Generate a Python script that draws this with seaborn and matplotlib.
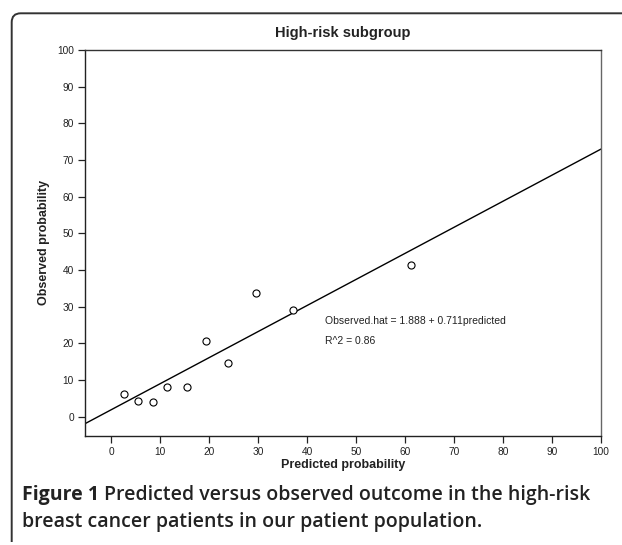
import numpy as np
import pandas as pd
import seaborn as sns
import matplotlib
matplotlib.use("Agg")
import matplotlib.pyplot as plt
from matplotlib.path import Path
from matplotlib.patches import PathPatch

# ---- data ----
predicted = [2.7, 5.5, 8.5, 11.5, 15.5, 19.4, 23.8, 29.5, 37.1, 61.2]
observed = [6.2, 4.3, 4.0, 8.0, 8.0, 20.6, 14.8, 33.8, 29.0, 41.3]
intercept = 1.888
slope = 0.711
r_squared = 0.86
x_ticks = list(range(0, 101, 10))
y_ticks = list(range(0, 101, 10))

df = pd.DataFrame({"Predicted probability": predicted, "Observed probability": observed})

sns.set_style("ticks")
plt.rcParams["font.family"] = ["Liberation Sans", "DejaVu Sans"]

W, H = 622, 545
fig = plt.figure(figsize=(W / 100, H / 100), dpi=100)
ax = fig.add_axes([85 / W, 1 - 435.5 / H, (601 - 85) / W, (435.5 - 50) / H])

sns.scatterplot(data=df, x="Predicted probability", y="Observed probability", ax=ax,
                marker="o", s=26, facecolor="white", edgecolor="black", linewidth=0.8,
                zorder=3)
ax.axline((0, intercept), slope=slope, color="black", lw=1.0, zorder=2)

ax.set_xlim(-5.3, 100)
ax.set_ylim(-5.1, 100)
ax.set_xticks(x_ticks)
ax.set_yticks(y_ticks)
ax.tick_params(axis="both", labelsize=7.3, colors="#222222", length=5, width=0.9, pad=3)
for sp in ax.spines.values():
    sp.set_visible(True)
    sp.set_linewidth(1.0)
    sp.set_color("#222222")
ax.spines["right"].set_color("#666666")
ax.spines["top"].set_color("#333333")

ax.set_xlabel("Predicted probability", fontsize=9, fontweight="bold", color="#222222", labelpad=2)
ax.set_ylabel("Observed probability", fontsize=9, fontweight="bold", color="#222222", labelpad=5)
ax.set_title("High-risk subgroup", fontsize=10.5, fontweight="bold", color="#222222", pad=9)

ax.text(43.7, 26.2, f"Observed.hat = {intercept} + {slope}predicted", fontsize=7.5,
        color="#222222", va="center", ha="left")
ax.text(43.7, 20.7, f"R^2 = {r_squared}", fontsize=7.5, color="#222222", va="center", ha="left")

# ---- frame (top + left with rounded corner) ----
def fx(px):
    return px / W

def fy(py):
    return 1 - py / H

r = 9
x0, y0 = 11.7, 13.3
verts = [(fx(W + 2), fy(y0)), (fx(x0 + r), fy(y0)),
         (fx(x0), fy(y0)), (fx(x0), fy(y0 + r)),
         (fx(x0), fy(542))]
codes = [Path.MOVETO, Path.LINETO, Path.CURVE3, Path.CURVE3, Path.LINETO]
fig.patches.append(PathPatch(Path(verts, codes), transform=fig.transFigure,
                             facecolor="none", edgecolor="#333333", lw=1.4))

# ---- caption ----
cap_font = ["Open Sans", "DejaVu Sans"]
cap_size = 14
t1 = fig.text(fx(22), fy(500), "Figure 1", fontsize=cap_size, fontweight="bold",
              family=cap_font, color="#222222", va="baseline", ha="left")
fig.canvas.draw()
bb = t1.get_window_extent()
fig.text(bb.x1 / W + 5 / W, fy(500), "Predicted versus observed outcome in the high-risk",
         fontsize=cap_size, fontweight="semibold", family=cap_font, color="#222222",
         va="baseline", ha="left")
fig.text(fx(22), fy(527), "breast cancer patients in our patient population.",
         fontsize=cap_size, fontweight="semibold", family=cap_font, color="#222222",
         va="baseline", ha="left")

fig.savefig("out.png", dpi=100)
